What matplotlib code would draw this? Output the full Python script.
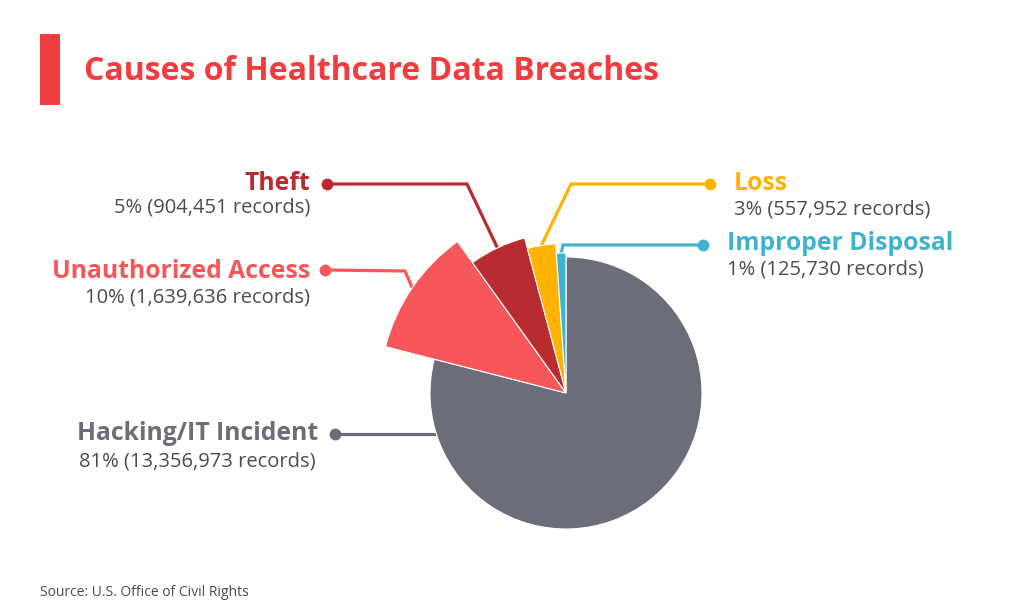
import numpy as np
import matplotlib
matplotlib.use("Agg")
import matplotlib.pyplot as plt
from matplotlib.patches import Rectangle

plt.rcParams['font.family'] = ['Open Sans', 'DejaVu Sans']

# data
causes = ['Hacking/IT Incident', 'Unauthorized Access', 'Theft', 'Loss', 'Improper Disposal']
percents = [81, 10, 5, 3, 1]
records = [13356973, 1639636, 904451, 557952, 125730]
# slice angles as drawn in the picture (share of the circle, %)
shares = [79.0, 11.1, 5.75, 3.05, 1.1]
# outer radius of each slice as drawn (relative to the hacking slice)
radii = [1.0, 1.37, 1.18, 1.10, 1.03]
colors = ['#6b6d78', '#f7575a', '#b82c31', '#fdb300', '#41b3ce']
text_color = '#4b4b55'

W, H = 1024, 614
fig = plt.figure(figsize=(W / 100, H / 100), dpi=100)
ax = fig.add_axes([0, 0, 1, 1])


def py(y):
    # pixel row -> data y
    return H - y


cx, cy = 566, py(393)
R = 136

wedges, _ = ax.pie(shares, colors=colors, startangle=90, counterclock=False,
                   radius=R, center=(cx, cy),
                   wedgeprops=dict(edgecolor='white', linewidth=0.8))
for w, r in zip(wedges, radii):
    w.set_radius(R * r)

ax.set_xlim(0, W)
ax.set_ylim(0, H)
ax.set_aspect('equal')
ax.axis('off')


def edge_point(w, frac=0.5):
    ang = np.deg2rad(w.theta1 + (w.theta2 - w.theta1) * frac)
    return cx + w.r * np.cos(ang), cy + w.r * np.sin(ang)


# leader lines: dot position, elbow position
layout = {
    1: dict(dot=(325, 270), elbow=(405, 271)),
    2: dict(dot=(327, 184), elbow=(467, 184)),
    3: dict(dot=(710, 184), elbow=(571, 184)),
    4: dict(dot=(703, 245), elbow=(563, 245)),
}
lw = 2.3
for i, lay in layout.items():
    w = wedges[i]
    ex, ey = edge_point(w)
    dx, dy = lay['dot'][0], py(lay['dot'][1])
    bx, by = lay['elbow'][0], py(lay['elbow'][1])
    ax.plot([dx, bx, ex], [dy, by, ey], color=colors[i], lw=lw,
            solid_capstyle='butt', solid_joinstyle='miter', zorder=0)
    ax.plot(dx, dy, 'o', color=colors[i], ms=7.5, zorder=3)

# hacking: horizontal line to circle edge
hy = py(434)
hx = cx - np.sqrt((R * radii[0]) ** 2 - (hy - cy) ** 2)
ax.plot([335, hx], [hy, hy], color=colors[0], lw=lw, solid_capstyle='butt', zorder=0)
ax.plot(335, hy, 'o', color=colors[0], ms=7.5, zorder=3)

# labels
label_pos = {
    0: dict(x=318, y=434, x2=316, y2=461, ha='right'),
    1: dict(x=310, y=271, x2=310, y2=297, ha='right'),
    2: dict(x=310, y=184, x2=310, y2=208, ha='right'),
    3: dict(x=734, y=184, x2=734, y2=209, ha='left'),
    4: dict(x=727, y=244, x2=727, y2=270, ha='left'),
}
for i, lp in label_pos.items():
    ax.text(lp['x'], py(lp['y']), causes[i], color=colors[i], fontsize=17.8,
            fontweight='bold', ha=lp['ha'], va='center')
    ax.text(lp['x2'], py(lp['y2']), f"{percents[i]}% ({records[i]:,} records)",
            color=text_color, fontsize=14.5, ha=lp['ha'], va='center')

# title
ax.add_patch(Rectangle((40, py(105)), 20, 71, color='#f23c3f', lw=0))
ax.text(84, py(71), 'Causes of Healthcare Data Breaches', color='#f23c3f',
        fontsize=23, fontweight='bold', ha='left', va='center')

ax.text(40, py(592), 'Source: U.S. Office of Civil Rights', color=text_color,
        fontsize=10, ha='left', va='center')

fig.savefig('out.png', dpi=100, facecolor='white')
